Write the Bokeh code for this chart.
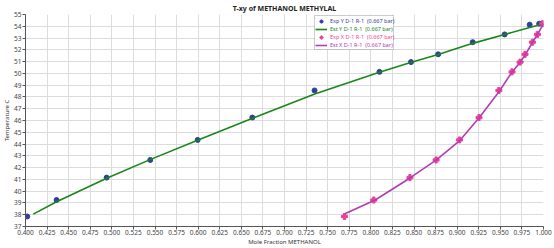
from bokeh.plotting import figure
from bokeh.models import (Legend, LegendItem, SingleIntervalTicker, NumeralTickFormatter,
                          Range1d, BoxAnnotation)
from bokeh.embed import file_html
from bokeh.resources import INLINE

# Experimental vapour (Y) data
exp_y_x = [0.402, 0.436, 0.494, 0.5445, 0.5994, 0.6627, 0.7348, 0.810, 0.8465, 0.878, 0.918, 0.955, 0.984, 0.995]
exp_y_t = [37.85, 39.25, 41.15, 42.65, 44.35, 46.25, 48.55, 50.13, 50.96, 51.62, 52.65, 53.31, 54.14, 54.22]
# Estimated vapour (Y) curve
est_y_x = [0.409, 0.436, 0.494, 0.545, 0.600, 0.663, 0.735, 0.810, 0.847, 0.878, 0.918, 0.955, 0.984, 1.000]
est_y_t = [38.05, 39.1, 41.1, 42.7, 44.35, 46.2, 48.25, 50.1, 50.95, 51.6, 52.55, 53.3, 53.9, 54.22]
# Experimental liquid (X) data
exp_x_x = [0.7694, 0.8034, 0.8453, 0.8756, 0.9027, 0.9253, 0.9483, 0.9635, 0.9729, 0.9786, 0.9872, 0.9930, 0.9990]
exp_x_t = [37.85, 39.25, 41.15, 42.65, 44.35, 46.25, 48.55, 50.13, 50.96, 51.62, 52.65, 53.31, 54.22]
# Estimated liquid (X) curve
est_x_x = [0.770, 0.805, 0.845, 0.876, 0.903, 0.925, 0.948, 0.963, 0.973, 0.979, 0.987, 0.993, 1.000]
est_x_t = [38.08, 39.25, 41.1, 42.65, 44.3, 46.2, 48.4, 50.05, 50.95, 51.6, 52.6, 53.3, 54.22]

labels = ["Exp Y D-1 R-1  (0.667 bar)", "Est Y D-1 R-1  (0.667 bar)",
          "Exp X D-1 R-1  (0.667 bar)", "Est X D-1 R-1  (0.667 bar)"]
colors = ["#2e3fa0", "#1a861a", "#ee3f97", "#b23db6"]

FONT = "Noto Sans"

p = figure(width=554, height=248, output_backend="svg", toolbar_location=None,
           x_range=Range1d(0.4, 1.0), y_range=Range1d(37, 55),
           title="T-xy of METHANOL METHYLAL",
           min_border_left=4, min_border_right=11, min_border_top=4, min_border_bottom=2)
p.background_fill_color = "white"
p.border_fill_color = "white"
p.outline_line_color = None

p.title.align = "center"
p.title.text_font = FONT
p.title.text_font_size = "7px"
p.title.text_font_style = "bold"
p.title.text_color = "#222222"
p.title.standoff = 3
p.title.offset = 0

p.xaxis.ticker = SingleIntervalTicker(interval=0.025)
p.yaxis.ticker = SingleIntervalTicker(interval=1)
p.xaxis.formatter = NumeralTickFormatter(format="0.000")
p.xaxis.axis_label = "Mole Fraction METHANOL"
p.yaxis.axis_label = "Temperature C"
for ax in (p.xaxis, p.yaxis):
    ax.axis_label_text_font = FONT
    ax.axis_label_text_font_size = "6px"
    ax.axis_label_text_font_style = "normal"
    ax.axis_label_text_color = "#333333"
    ax.axis_label_standoff = 0
    ax.major_label_text_font = FONT
    ax.major_label_text_font_size = "6.5px"
    ax.major_label_text_color = "#444444"
    ax.major_label_standoff = 1
    ax.major_tick_out = 3
    ax.major_tick_in = 0
    ax.minor_tick_out = 0
    ax.minor_tick_in = 0
    ax.axis_line_color = "#555555"
    ax.major_tick_line_color = "#555555"
p.xaxis.major_label_standoff = 0

p.grid.grid_line_color = "#dcdcdc"
p.grid.grid_line_width = 1

r1 = p.scatter(exp_y_x, exp_y_t, marker="circle", size=5, fill_color=colors[0], line_color=colors[0])
r2 = p.line(est_y_x, est_y_t, line_color=colors[1], line_width=1.6)
r3 = p.scatter(exp_x_x, exp_x_t, marker="plus", size=6, fill_color=colors[2], line_color=colors[2])
r4 = p.line(est_x_x, est_x_t, line_color=colors[3], line_width=1.6)
rends = [r1, r2, r3, r4]

PAD = 1
H = 8
base_x = 289
base_y = 177
BOX_W = 79

box = BoxAnnotation(left=base_x, right=base_x + BOX_W, bottom=base_y, top=base_y + 2 * PAD + 4 * H,
                    left_units="screen", right_units="screen", bottom_units="screen", top_units="screen",
                    fill_color="white", fill_alpha=1, line_color="#555555", line_width=1)
p.add_layout(box)

for i, (l, r, c) in enumerate(zip(labels, rends, colors)):
    lg = Legend(items=[LegendItem(label=l, renderers=[r])], location=(base_x + 1, base_y + (3 - i) * H))
    lg.label_text_font = FONT
    lg.label_text_font_size = "5.5px"
    lg.label_height = H
    lg.glyph_height = H
    lg.glyph_width = 12
    lg.label_standoff = 3
    lg.spacing = 0
    lg.padding = PAD
    lg.margin = 0
    lg.label_text_color = c
    lg.border_line_color = None
    lg.background_fill_alpha = 0
    p.add_layout(lg, "center")

open("out.html", "w").write(file_html(p, INLINE))
